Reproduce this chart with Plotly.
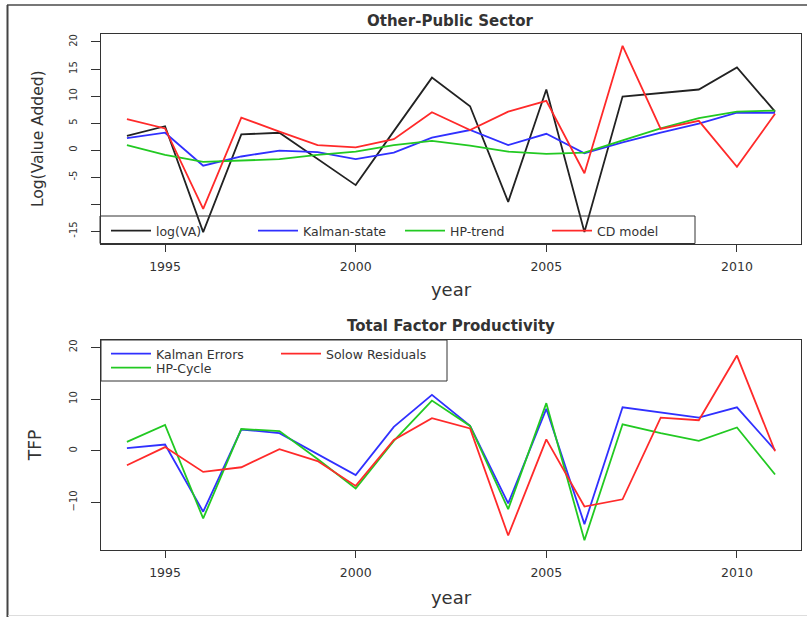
import plotly.graph_objects as go

# ---------------- data ----------------
years = list(range(1994, 2012))

# Top panel: Other-Public Sector
log_va = [2.6, 4.4, -15.2, 2.9, 3.2, -1.6, -6.5, 3.5, 13.4, 8.1, -9.6, 11.2, -15.2, 9.9, 10.5, 11.2, 15.3, 7.1]
kalman_state = [2.2, 3.2, -2.9, -1.2, -0.1, -0.4, -1.7, -0.5, 2.3, 3.7, 0.9, 3.0, -0.6, 1.4, 3.2, 4.9, 6.9, 6.9]
hp_trend = [0.9, -0.9, -2.2, -2.0, -1.7, -0.9, -0.3, 0.9, 1.7, 0.8, -0.3, -0.7, -0.5, 1.8, 4.0, 5.9, 7.1, 7.3]
cd_model = [5.7, 4.0, -10.9, 6.0, 3.4, 0.9, 0.5, 2.0, 7.0, 3.7, 7.1, 9.1, -4.3, 19.3, 3.9, 5.4, -3.1, 6.7]

# Bottom panel: Total Factor Productivity
kalman_errors = [0.5, 1.2, -11.8, 4.1, 3.4, -0.6, -4.7, 4.6, 10.8, 4.8, -10.2, 8.1, -14.2, 8.4, 7.4, 6.4, 8.4, 0.1]
hp_cycle = [1.7, 5.0, -13.1, 4.2, 3.8, -1.6, -7.3, 1.9, 9.7, 4.8, -11.3, 9.2, -17.3, 5.1, 3.4, 1.9, 4.5, -4.6]
solow_residuals = [-2.8, 0.7, -4.1, -3.2, 0.3, -2.0, -6.8, 2.1, 6.3, 4.3, -16.4, 2.2, -10.8, -9.4, 6.4, 5.9, 18.4, -0.1]

x_ticks = [1995, 2000, 2005, 2010]
y_ticks_top = [-15, -10, -5, 0, 5, 10, 15, 20]
y_ticktext_top = ["-15", "", "-5", "0", "5", "10", "15", "20"]
y_ticks_bottom = [-10, 0, 10, 20]

# ---------------- figure ----------------
W, H = 807, 617
FONT = "DejaVu Sans"
TXT = "#333333"
C_BLACK, C_BLUE, C_GREEN, C_RED = "#222222", "#3030ff", "#22c922", "#ff2a2a"
LW = 1.8


def px(x):
    return x / W


def py(y):
    return 1 - y / H


fig = go.Figure()

top = [("log(VA)", log_va, C_BLACK), ("Kalman-state", kalman_state, C_BLUE),
       ("HP-trend", hp_trend, C_GREEN), ("CD model", cd_model, C_RED)]
for name, vals, col in top:
    fig.add_trace(go.Scatter(x=years, y=vals, name=name, mode="lines",
                             line=dict(color=col, width=LW), xaxis="x", yaxis="y",
                             legend="legend"))

bottom = [("Kalman Errors", kalman_errors, C_BLUE, "legend2"),
          ("HP-Cycle", hp_cycle, C_GREEN, "legend3"),
          ("Solow Residuals", solow_residuals, C_RED, "legend4")]
for name, vals, col, lg in bottom:
    fig.add_trace(go.Scatter(x=years, y=vals, name=name, mode="lines",
                             line=dict(color=col, width=LW), xaxis="x2", yaxis="y2",
                             legend=lg))

x_dom = [px(101), px(801)]
axis_common = dict(showline=True, mirror=True, linecolor="#333333", linewidth=1,
                   showgrid=False, zeroline=False, ticks="outside", tickcolor="#333333",
                   tickwidth=1)

xaxis_style = dict(axis_common, range=[1993.32, 2011.68], tickvals=x_ticks, ticklen=7,
                   tickfont=dict(family=FONT, size=12.5, color=TXT), ticklabelstandoff=4)

yaxis_style = dict(axis_common, ticklen=9, tickangle=-90,
                   tickfont=dict(family=FONT, size=10, color=TXT), ticklabelstandoff=10)

legend_common = dict(bgcolor="rgba(0,0,0,0)", borderwidth=0,
                     font=dict(family=FONT, size=12.5, color=TXT), itemwidth=40,
                     xanchor="left", yanchor="middle", itemclick=False, itemdoubleclick=False)

fig.update_layout(
    width=W, height=H,
    margin=dict(l=0, r=0, t=0, b=0),
    paper_bgcolor="white", plot_bgcolor="white",
    font=dict(family=FONT, color=TXT),
    showlegend=True,
    hovermode=False,
    xaxis=dict(xaxis_style, domain=x_dom, anchor="y",
               title=dict(text="year", font=dict(family=FONT, size=18, color=TXT), standoff=10)),
    yaxis=dict(yaxis_style, domain=[py(243.5), py(34)], anchor="x",
               range=[-17.31, 21.48], tickvals=y_ticks_top, ticktext=y_ticktext_top,
               title=dict(text="Log(Value Added)", font=dict(family=FONT, size=15.5, color=TXT),
                          standoff=20)),
    xaxis2=dict(xaxis_style, domain=x_dom, anchor="y2",
                title=dict(text="year", font=dict(family=FONT, size=18, color=TXT), standoff=12)),
    yaxis2=dict(yaxis_style, domain=[py(550), py(340)], anchor="x2",
                range=[-19.2, 21.41], tickvals=y_ticks_bottom,
                title=dict(text="TFP", font=dict(family=FONT, size=17, color=TXT),
                           standoff=22)),
    legend=dict(legend_common, orientation="h", x=px(106), y=py(231),
                entrywidth=92, entrywidthmode="pixels"),
    legend2=dict(legend_common, orientation="v", x=px(106), y=py(354)),
    legend3=dict(legend_common, orientation="v", x=px(106), y=py(368)),
    legend4=dict(legend_common, orientation="v", x=px(276), y=py(354)),
    annotations=[
        dict(text="<b>Other-Public Sector</b>", x=px(451), y=py(20.5), xref="paper", yref="paper",
             showarrow=False, xanchor="center", yanchor="middle",
             font=dict(family=FONT, size=15, color=TXT)),
        dict(text="<b>Total Factor Productivity</b>", x=px(451), y=py(326), xref="paper", yref="paper",
             showarrow=False, xanchor="center", yanchor="middle",
             font=dict(family=FONT, size=15, color=TXT)),
    ],
    shapes=[
        # legend boxes
        dict(type="rect", xref="paper", yref="paper", x0=px(100), x1=px(695), y0=py(243.5), y1=py(216),
             line=dict(color="#333333", width=1)),
        dict(type="rect", xref="paper", yref="paper", x0=px(101), x1=px(447), y0=py(381), y1=py(340),
             line=dict(color="#333333", width=1)),
        # screenshot frame
        dict(type="line", xref="paper", yref="paper", x0=px(7), x1=1, y0=py(5), y1=py(5),
             line=dict(color="#777777", width=2)),
        dict(type="line", xref="paper", yref="paper", x0=px(7.5), x1=px(7.5), y0=py(5), y1=0,
             line=dict(color="#444444", width=2)),
        dict(type="line", xref="paper", yref="paper", x0=px(8), x1=1, y0=py(615.5), y1=py(615.5),
             line=dict(color="#dddddd", width=1)),
    ],
)

fig.write_html(
    "out.html",
    config={"displayModeBar": False, "staticPlot": False},
    post_script="document.body.style.margin='0';document.body.style.overflow='hidden';",
)
